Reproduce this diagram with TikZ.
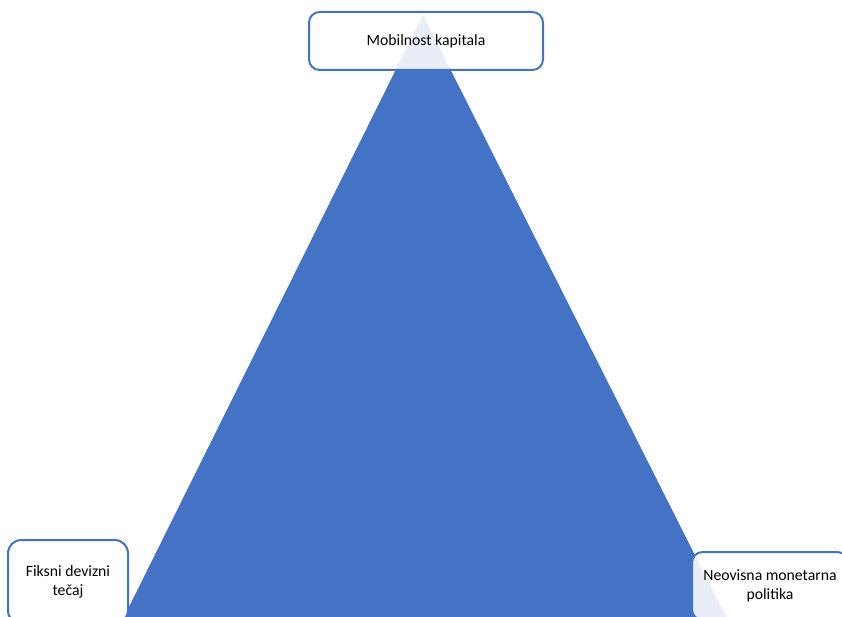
\documentclass[tikz,border=0pt]{standalone}
\usepackage{fontspec}
\setmainfont{Carlito}
\definecolor{triblue}{RGB}{68,114,196}
\tikzset{every picture/.style={line width=0.75pt}}
\tikzset{cornerbox/.style={draw=triblue, line width=1.5pt, fill=white, fill opacity=0.88, text opacity=1, align=center, inner sep=0pt, font=\fontsize{11.8}{14.5}\selectfont}}

\begin{document}
\begin{tikzpicture}[x=0.75pt,y=0.75pt,yscale=-1,xscale=1]
\useasboundingbox (0,0) rectangle (842,617);
\clip (0,0) rectangle (842,617);

%Shape: Triangle
\coordinate (apex) at (423,15);
\coordinate (baseL) at (124,617);
\coordinate (baseR) at (726,617);
\fill [triblue] (apex) -- (baseR) -- (baseL) -- cycle ;

% Text Node
\node (mobil) at (426,41) [cornerbox, rounded corners=8pt, minimum width=175.5pt, minimum height=43.5pt] {Mobilnost kapitala};
% Text Node
\node (fiks) at (68,582) [cornerbox, rounded corners=10pt, minimum width=90pt, minimum height=63pt] {Fiksni devizni\\ tečaj};
% Text Node
\node (neov) at (770,586) [cornerbox, rounded corners=8pt, minimum width=117pt, minimum height=51pt] {Neovisna monetarna\\ politika};

\end{tikzpicture}
\end{document}
